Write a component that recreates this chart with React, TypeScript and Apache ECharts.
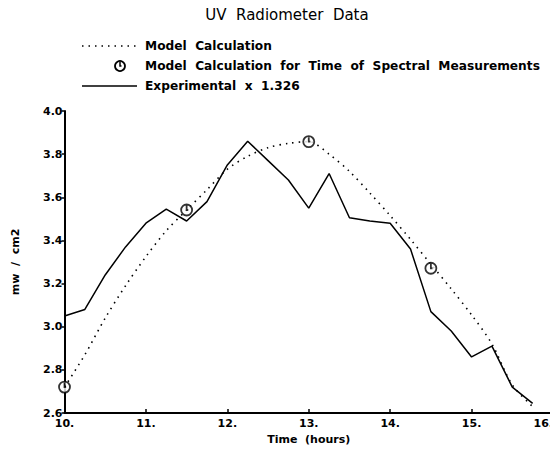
import React, { useEffect, useRef } from "react";
import * as echarts from "echarts";

const hours = [10.0, 10.25, 10.5, 10.75, 11.0, 11.25, 11.5, 11.75, 12.0, 12.25, 12.5, 12.75, 13.0, 13.25, 13.5, 13.75, 14.0, 14.25, 14.5, 14.75, 15.0, 15.25, 15.5, 15.75];
const experimental = [3.05, 3.08, 3.24, 3.37, 3.48, 3.545, 3.49, 3.58, 3.75, 3.86, 3.77, 3.68, 3.55, 3.71, 3.505, 3.49, 3.48, 3.36, 3.07, 2.98, 2.86, 2.91, 2.72, 2.645];
const model = [2.72, 2.87, 3.04, 3.19, 3.325, 3.445, 3.541, 3.635, 3.73, 3.79, 3.83, 3.85, 3.858, 3.8, 3.72, 3.62, 3.515, 3.405, 3.29, 3.175, 3.055, 2.92, 2.73, 2.63];
const markerHours = [10.0, 11.5, 13.0, 14.5];
const markerValues = [2.72, 3.541, 3.858, 3.271];

const titleText = "UV  Radiometer  Data";
const legendModel = "Model  Calculation";
const legendMarker = "Model  Calculation  for  Time  of  Spectral  Measurements";
const legendExp = "Experimental  x  1.326";
const xName = "Time  (hours)";
const yName = "mw  /  cm2";

const FONT = "DejaVu Sans";
const clockPath = "path://M10,0 A10,10 0 1,1 10,20 A10,10 0 1,1 10,0 Z M10,2 L10,10 L13,10";

export default function App() {
  const ref = useRef<HTMLDivElement>(null);
  useEffect(() => {
    if (!ref.current) return;
    const chart = echarts.init(ref.current, null, { renderer: "svg" });
    const zip = (xs: number[], ys: number[]) => xs.map((x, i) => [x, ys[i]]);
    chart.setOption({
      animation: false,
      backgroundColor: "#fff",
      textStyle: { fontFamily: FONT },
      grid: { left: 64.5, right: 5, top: 111, bottom: 43, containLabel: false },
      xAxis: {
        type: "value",
        min: 10,
        max: 16,
        interval: 1,
        name: xName,
        nameLocation: "middle",
        nameGap: 21,
        nameTextStyle: { fontFamily: FONT, fontWeight: "bold", fontSize: 11, color: "#000" },
        axisLine: { onZero: false, lineStyle: { color: "#000", width: 2 } },
        axisTick: { inside: true, length: 4, lineStyle: { color: "#000", width: 1.5 } },
        axisLabel: {
          formatter: (v: number) => v + ".",
          fontFamily: FONT,
          fontWeight: "bold",
          fontSize: 11,
          color: "#000",
          margin: 5,
          alignMaxLabel: "right",
        },
        splitLine: { show: false },
      },
      yAxis: {
        type: "value",
        min: 2.6,
        max: 4.0,
        interval: 0.2,
        name: yName,
        nameLocation: "middle",
        nameGap: 44,
        nameRotate: 90,
        nameTextStyle: { fontFamily: FONT, fontWeight: "bold", fontSize: 11, color: "#000" },
        axisLine: { onZero: false, lineStyle: { color: "#000", width: 2 } },
        axisTick: { inside: false, length: 3, lineStyle: { color: "#000", width: 1.5 } },
        axisLabel: {
          formatter: (v: number) => v.toFixed(1),
          fontFamily: FONT,
          fontWeight: "bold",
          fontSize: 11,
          color: "#000",
          margin: 2,
        },
        splitLine: { show: false },
      },
      graphic: [
        {
          type: "text",
          x: 287,
          y: 15,
          style: { text: titleText, font: `15px "${FONT}"`, fill: "#000", align: "center", verticalAlign: "middle" },
        },
        {
          type: "line",
          shape: { x1: 82, y1: 46, x2: 136, y2: 46 },
          style: { stroke: "#000", lineWidth: 1.5, lineDash: [1.5, 5] },
        },
        {
          type: "text",
          x: 145,
          y: 46,
          style: { text: legendModel, font: `bold 12.2px "${FONT}"`, fill: "#000", verticalAlign: "middle" },
        },
        {
          type: "circle",
          shape: { cx: 120, cy: 66, r: 5 },
          style: { stroke: "#000", lineWidth: 1.8, fill: "none" },
        },
        {
          type: "polyline",
          shape: { points: [[120, 61.5], [120, 66], [121.5, 66]] },
          style: { stroke: "#000", lineWidth: 1.5, fill: "none" },
        },
        {
          type: "text",
          x: 145,
          y: 66,
          style: { text: legendMarker, font: `bold 12.2px "${FONT}"`, fill: "#000", verticalAlign: "middle" },
        },
        {
          type: "line",
          shape: { x1: 82, y1: 86, x2: 137, y2: 86 },
          style: { stroke: "#000", lineWidth: 1.5 },
        },
        {
          type: "text",
          x: 145,
          y: 86,
          style: { text: legendExp, font: `bold 12.2px "${FONT}"`, fill: "#000", verticalAlign: "middle" },
        },
      ],
      series: [
        {
          type: "line",
          name: "Model Calculation",
          data: zip(hours, model),
          showSymbol: false,
          smooth: 0.3,
          lineStyle: { color: "#000", width: 1.6, type: [1.5, 5] },
        },
        {
          type: "line",
          name: "Experimental x 1.326",
          data: zip(hours, experimental),
          showSymbol: false,
          lineStyle: { color: "#000", width: 1.5 },
        },
        {
          type: "scatter",
          name: "Model Calculation for Time of Spectral Measurements",
          data: zip(markerHours, markerValues),
          symbol: clockPath,
          symbolSize: 11,
          itemStyle: { color: "#fff", borderColor: "#000", borderWidth: 1.8 },
          z: 5,
        },
      ],
    });
    return () => chart.dispose();
  }, []);
  return <div ref={ref} style={{ width: 558, height: 456, margin: -8 }} />;
}
